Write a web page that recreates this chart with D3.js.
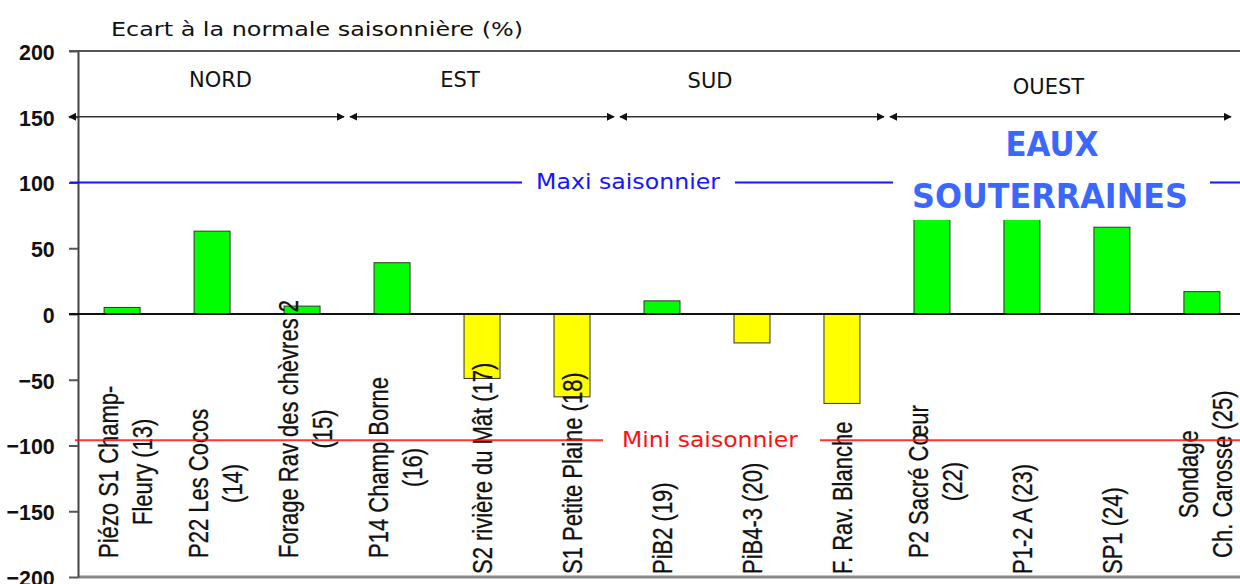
<!DOCTYPE html>
<html>
<head>
<meta charset="utf-8">
<script src="https://cdn.jsdelivr.net/npm/d3@7"></script>
<style>
  body { margin: 0; background: #fff; }
</style>
</head>
<body>
<script>
const stations = [
    "Piézo S1 Champ-\nFleury  (13)",
    "P22 Les Cocos\n(14)",
    "Forage Rav des chèvres 2\n(15)",
    "P14 Champ Borne\n(16)",
    "S2 rivière du Mât (17)",
    "S1 Petite Plaine (18)",
    "PiB2 (19)",
    "PiB4-3 (20)",
    "F. Rav. Blanche",
    "P2 Sacré Cœur\n(22)",
    "P1-2 A  (23)",
    "SP1 (24)",
    "Sondage\nCh. Carosse (25)"
];
const ecarts = [5, 63, 6, 39, -49, -63, 10, -22, -68, 80, 80, 66, 17];

const regions = ["NORD", "EST", "SUD", "OUEST"];
const regionFirst = [0, 3, 6, 9];
const regionLast = [2, 5, 8, 12];

const yTicks = [200, 150, 100, 50, 0, -50, -100, -150, -200];
const maxiSaison = 100;
const miniSaison = -96;

const width = 1240;
const height = 584;
const left = 78;
const right = 1240;

const svg = d3.select("body")
    .append("svg")
    .attr("width", width)
    .attr("height", height);

const x = d3.scaleBand()
    .domain(d3.range(stations.length))
    .range([left, 1246])
    .paddingInner(0.6)
    .paddingOuter(0.29);

const y = d3.scaleLinear()
    .domain([-200, 200])
    .range([577, 51]);

const bw = x.bandwidth();
const step = x.step();
const cx = i => x(i) + bw / 2;

// title
svg.append("text")
    .attr("x", 111)
    .attr("y", 36)
    .attr("textLength", 412)
    .attr("lengthAdjust", "spacingAndGlyphs")
    .style("font-family", "'Comic Sans MS', 'DejaVu Sans', sans-serif")
    .style("font-size", "20px")
    .style("fill", "#111")
    .text("Ecart à la normale saisonnière (%)");

// top, bottom and zero lines
svg.append("line")
    .attr("x1", left - 9).attr("x2", right)
    .attr("y1", y(200)).attr("y2", y(200))
    .style("stroke", "#555").style("stroke-width", 2);

svg.append("line")
    .attr("x1", left).attr("x2", right)
    .attr("y1", y(-200)).attr("y2", y(-200))
    .style("stroke", "#888").style("stroke-width", 3);

// y axis
const yAxis = svg.append("g")
    .attr("transform", `translate(${left},0)`)
    .call(d3.axisLeft(y).tickValues(yTicks).tickSize(9).tickSizeOuter(0).tickPadding(16));

yAxis.select(".domain").style("stroke", "#444").style("stroke-width", 2);
yAxis.selectAll(".tick line").style("stroke", "#555").style("stroke-width", 2);
yAxis.selectAll(".tick text")
    .style("font-family", "'Liberation Sans', Arial, sans-serif")
    .style("font-weight", "bold")
    .style("font-size", "23px")
    .style("fill", "#111")
    .attr("transform", "scale(0.93,1)")
    .attr("dy", "0.36em");

// region arrows
const defs = svg.append("defs");
defs.append("marker")
    .attr("id", "head")
    .attr("viewBox", "0 0 10 10")
    .attr("refX", 9).attr("refY", 5)
    .attr("markerWidth", 8).attr("markerHeight", 8)
    .attr("markerUnits", "userSpaceOnUse")
    .attr("orient", "auto-start-reverse")
    .append("path")
    .attr("d", "M0,0 L10,5 L0,10 Z")
    .style("fill", "#111");

const regionX0 = regionFirst.map((f, i) => i === 0 ? left - 12 : cx(f) - step / 2);
const regionX1 = regionLast.map((l, i) => Math.min(cx(l) + step / 2, right - 6));

svg.selectAll(".region-arrow")
    .data(regions)
    .enter()
    .append("line")
    .attr("class", "region-arrow")
    .attr("x1", (d, i) => regionX0[i] + 3)
    .attr("x2", (d, i) => regionX1[i] - 3)
    .attr("y1", y(150)).attr("y2", y(150))
    .style("stroke", "#333")
    .style("stroke-width", 1.6)
    .attr("marker-start", "url(#head)")
    .attr("marker-end", "url(#head)");

const labelShift = [14, -22, -42, -12];
const labelDrop = [0, 0, 1, 7];
svg.selectAll(".region-label")
    .data(regions)
    .enter()
    .append("text")
    .attr("class", "region-label")
    .attr("x", (d, i) => (regionX0[i] + regionX1[i]) / 2 + labelShift[i])
    .attr("y", (d, i) => 87 + labelDrop[i])
    .attr("text-anchor", "middle")
    .style("font-family", "'Comic Sans MS', 'DejaVu Sans', sans-serif")
    .style("font-size", "21px")
    .style("fill", "#111")
    .text(d => d);

// maxi line
svg.append("line")
    .attr("x1", left - 8).attr("x2", right)
    .attr("y1", y(maxiSaison)).attr("y2", y(maxiSaison))
    .style("stroke", "#1515ff").style("stroke-width", 2);

svg.append("rect")
    .attr("x", 522).attr("y", y(maxiSaison) - 16)
    .attr("width", 213).attr("height", 32)
    .style("fill", "#fff");

svg.append("text")
    .attr("x", 536)
    .attr("y", y(maxiSaison) + 6)
    .attr("textLength", 184)
    .attr("lengthAdjust", "spacingAndGlyphs")
    .style("font-family", "'Comic Sans MS', 'DejaVu Sans', sans-serif")
    .style("font-size", "22px")
    .style("fill", "#1515ff")
    .text("Maxi saisonnier");

// bars
svg.selectAll(".bar")
    .data(ecarts)
    .enter()
    .append("rect")
    .attr("class", "bar")
    .attr("x", (d, i) => x(i))
    .attr("width", bw)
    .attr("y", d => y(Math.max(0, d)))
    .attr("height", d => Math.abs(y(d) - y(0)))
    .style("fill", d => d >= 0 ? "#00ff00" : "#ffff00")
    .style("stroke", "#333")
    .style("stroke-width", 1);

// zero line
svg.append("line")
    .attr("x1", left - 9).attr("x2", right)
    .attr("y1", y(0)).attr("y2", y(0))
    .style("stroke", "#111").style("stroke-width", 2);

// station labels
const lineGap = 34;
const labels = svg.selectAll(".station")
    .data(stations)
    .enter()
    .append("g")
    .attr("class", "station");

labels.each(function (d, i) {
    const g = d3.select(this);
    const lines = d.split("\n");
    const n = lines.length;
    const texts = lines.map((t, k) => g.append("text")
        .style("font-family", "'Liberation Sans', Arial, sans-serif")
        .style("font-size", "22px")
        .style("fill", "#111")
        .style("stroke", "#111")
        .style("stroke-width", 0.25)
        .attr("dy", "0.35em")
        .text(t));
    const longest = d3.max(texts, t => t.node().getComputedTextLength());
    texts.forEach((t, k) => {
        const dx = n === 1 ? 0 : (k - (n - 1) / 2) * lineGap + 3;
        const yy = n === 1 ? 574 : 558 - longest / 2;
        t.attr("text-anchor", n === 1 ? "start" : "middle")
            .attr("transform", `translate(${cx(i) + dx},${yy}) scale(1.25,1) rotate(-90)`);
    });
});

// mini line
svg.append("line")
    .attr("x1", left - 3).attr("x2", right)
    .attr("y1", y(miniSaison)).attr("y2", y(miniSaison))
    .style("stroke", "#ff1010").style("stroke-width", 2)
    .style("opacity", 0.85);

svg.append("rect")
    .attr("x", 603).attr("y", y(miniSaison) - 14)
    .attr("width", 217).attr("height", 26)
    .style("fill", "#fff");

svg.append("text")
    .attr("x", 622)
    .attr("y", y(miniSaison) + 7)
    .attr("textLength", 176)
    .attr("lengthAdjust", "spacingAndGlyphs")
    .style("font-family", "'Comic Sans MS', 'DejaVu Sans', sans-serif")
    .style("font-size", "22px")
    .style("fill", "#ff1010")
    .text("Mini saisonnier");

// EAUX SOUTERRAINES box
svg.append("rect")
    .attr("x", 893).attr("y", 121)
    .attr("width", 317).attr("height", 99)
    .style("fill", "#fff");

svg.append("text")
    .attr("x", 1052).attr("y", 156)
    .attr("text-anchor", "middle")
    .attr("textLength", 93)
    .attr("lengthAdjust", "spacingAndGlyphs")
    .style("font-family", "'Comic Sans MS', 'DejaVu Sans', sans-serif")
    .style("font-weight", "bold")
    .style("font-size", "33px")
    .style("fill", "#3a68ff")
    .text("EAUX");

svg.append("text")
    .attr("x", 1050).attr("y", 208)
    .attr("text-anchor", "middle")
    .attr("textLength", 276)
    .attr("lengthAdjust", "spacingAndGlyphs")
    .style("font-family", "'Comic Sans MS', 'DejaVu Sans', sans-serif")
    .style("font-weight", "bold")
    .style("font-size", "33px")
    .style("fill", "#3a68ff")
    .text("SOUTERRAINES");
</script>
</body>
</html>
